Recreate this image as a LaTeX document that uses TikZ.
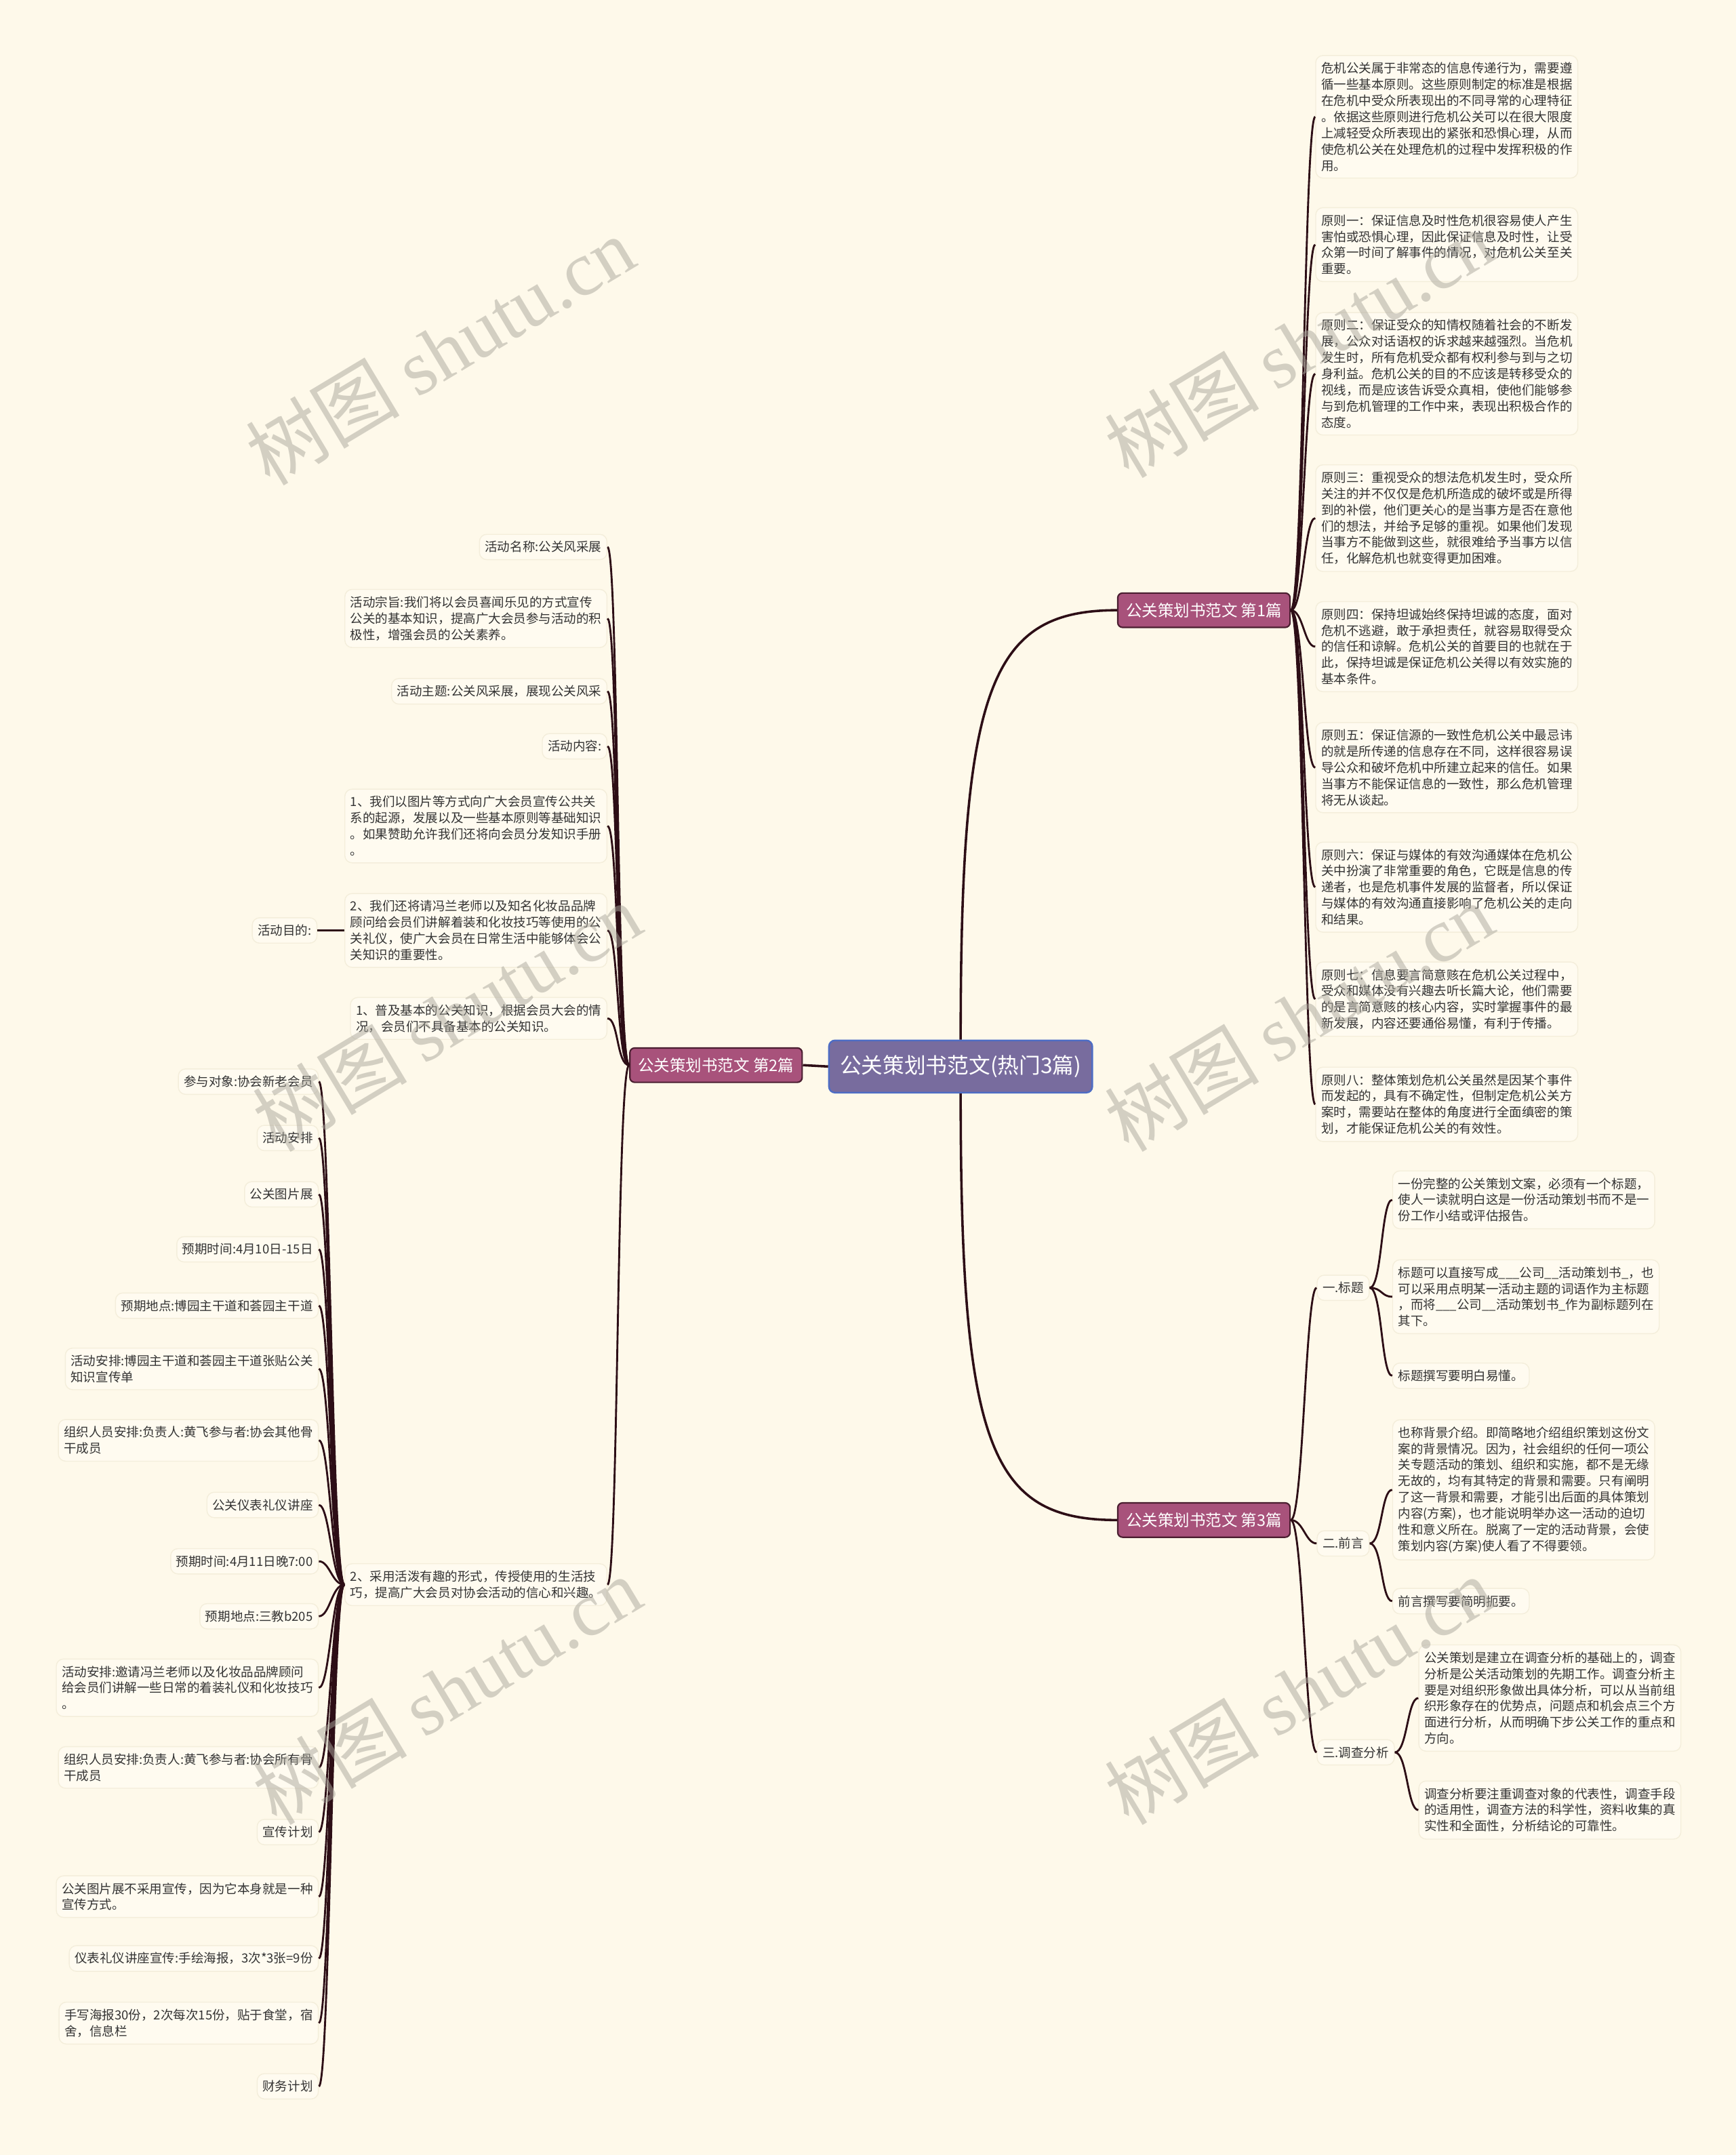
\documentclass[tikz,border=0pt]{standalone}
\usepackage{fontspec}
\setmainfont{Noto Sans CJK SC}
\newfontfamily\markfont{Liberation Serif}
\usepackage{tikz}
\usetikzlibrary{calc,positioning}
\definecolor{mmcream}   {HTML}{FEF9EA}
\definecolor{mmroot}    {HTML}{786C9E}
\definecolor{mmrootln}  {HTML}{4E6DC4}
\definecolor{mmbranch}  {HTML}{A8527B}
\definecolor{mmbranchln}{HTML}{4A1E30}
\definecolor{mmwire}    {HTML}{2D0E16}
\definecolor{mmink}     {HTML}{333333}
\definecolor{mmleaf}    {HTML}{FFFBF0}
\definecolor{mmleafln}  {HTML}{F4EEDB}
\definecolor{mmmark}    {HTML}{AAA79C}
% right-hand and left-hand connectors
\newcommand{\mmright}[2]{%
  \draw[wire] (#1) .. controls +(9,0) and +(-8,0) .. (#2);}
\newcommand{\mmleft}[2]{%
  \draw[wire] (#1) .. controls +(-9,0) and +(8,0) .. (#2);}

\begin{document}
\begin{tikzpicture}[x=0.02cm, y=-0.02cm,
    wire/.style={draw=mmwire, line width=0.8pt},
    leaf/.style={fill=mmleaf, draw=mmleafln, line width=0.4pt,
      rounded corners=3pt, text=mmink, align=left,
      inner xsep=0.08cm, inner ysep=0.1cm,
      font=\fontsize{5.2pt}{6.7pt}\selectfont},
    branch/.style={fill=mmbranch, draw=mmbranchln, line width=0.6pt,
      rounded corners=2pt, text=white, minimum height=0.5cm,
      inner xsep=0.12cm, font=\fontsize{6.6pt}{8pt}\selectfont},
    rootnode/.style={fill=mmroot, draw=mmrootln, line width=0.7pt,
      rounded corners=2.5pt, text=white, minimum height=0.76cm,
      inner xsep=0.16cm, font=\fontsize{8.9pt}{10pt}\selectfont},
    wmark/.style={text=mmmark, opacity=0.5, rotate=31,
      font=\fontsize{32pt}{34pt}\selectfont}]
  \fill[mmcream] (0,0) rectangle (1263,1568);
  \useasboundingbox (0,0) rectangle (1263,1568);

  % centre and branches
  \node[rootnode] (root) at (699,776) {公关策划书范文(热门3篇)};
  \node[branch] (br1) at (876,444) {公关策划书范文 第1篇};
  \node[branch] (br2) at (521,775) {公关策划书范文 第2篇};
  \node[branch] (br3) at (876,1106) {公关策划书范文 第3篇};

  \draw[wire, line width=1pt] (root.north) .. controls (699,500) and (720,444) .. (br1.west);
  \draw[wire, line width=1pt] (root.south) .. controls (699,1052) and (720,1106) .. (br3.west);
  \draw[wire, line width=1pt] (root.west) -- (br2.east);

  % first piece
  \node[leaf, anchor=west] (p0) at (957,85) {危机公关属于非常态的信息传递行为，需要遵\\循一些基本原则。这些原则制定的标准是根据\\在危机中受众所表现出的不同寻常的心理特征\\。依据这些原则进行危机公关可以在很大限度\\上减轻受众所表现出的紧张和恐惧心理，从而\\使危机公关在处理危机的过程中发挥积极的作\\用。};
  \node[leaf, anchor=west] (p1) at (957,178) {原则一：保证信息及时性危机很容易使人产生\\害怕或恐惧心理，因此保证信息及时性，让受\\众第一时间了解事件的情况，对危机公关至关\\重要。};
  \node[leaf, anchor=west] (p2) at (957,272) {原则二：保证受众的知情权随着社会的不断发\\展，公众对话语权的诉求越来越强烈。当危机\\发生时，所有危机受众都有权利参与到与之切\\身利益。危机公关的目的不应该是转移受众的\\视线，而是应该告诉受众真相，使他们能够参\\与到危机管理的工作中来，表现出积极合作的\\态度。};
  \node[leaf, anchor=west] (p3) at (957,377) {原则三：重视受众的想法危机发生时，受众所\\关注的并不仅仅是危机所造成的破坏或是所得\\到的补偿，他们更关心的是当事方是否在意他\\们的想法，并给予足够的重视。如果他们发现\\当事方不能做到这些，就很难给予当事方以信\\任，化解危机也就变得更加困难。};
  \node[leaf, anchor=west] (p4) at (957,470.5) {原则四：保持坦诚始终保持坦诚的态度，面对\\危机不逃避，敢于承担责任，就容易取得受众\\的信任和谅解。危机公关的首要目的也就在于\\此，保持坦诚是保证危机公关得以有效实施的\\基本条件。};
  \node[leaf, anchor=west] (p5) at (957,558.5) {原则五：保证信源的一致性危机公关中最忌讳\\的就是所传递的信息存在不同，这样很容易误\\导公众和破坏危机中所建立起来的信任。如果\\当事方不能保证信息的一致性，那么危机管理\\将无从谈起。};
  \node[leaf, anchor=west] (p6) at (957,645.5) {原则六：保证与媒体的有效沟通媒体在危机公\\关中扮演了非常重要的角色，它既是信息的传\\递者，也是危机事件发展的监督者，所以保证\\与媒体的有效沟通直接影响了危机公关的走向\\和结果。};
  \node[leaf, anchor=west] (p7) at (957,727) {原则七：信息要言简意赅在危机公关过程中，\\受众和媒体没有兴趣去听长篇大论，他们需要\\的是言简意赅的核心内容，实时掌握事件的最\\新发展，内容还要通俗易懂，有利于传播。};
  \node[leaf, anchor=west] (p8) at (957,803.5) {原则八：整体策划危机公关虽然是因某个事件\\而发起的，具有不确定性，但制定危机公关方\\案时，需要站在整体的角度进行全面缜密的策\\划，才能保证危机公关的有效性。};
  \foreach \n in {p0,p1,p2,p3,p4,p5,p6,p7,p8}
    {\mmright{br1.east}{\n.west}}

  % third piece
  \node[leaf, anchor=west] (h1) at (958,937) {一.标题};
  \node[leaf, anchor=west] (h2) at (958,1123) {二.前言};
  \node[leaf, anchor=west] (h3) at (958,1275) {三.调查分析};
  \foreach \n in {h1,h2,h3}
    {\mmright{br3.east}{\n.west}}

  \node[leaf, anchor=west] (h1a) at (1013,873) {一份完整的公关策划文案，必须有一个标题，\\使人一读就明白这是一份活动策划书而不是一\\份工作小结或评估报告。};
  \node[leaf, anchor=west] (h1b) at (1013,943.5) {标题可以直接写成\_\_\_公司\_\_活动策划书\_，也\\可以采用点明某一活动主题的词语作为主标题\\，而将\_\_\_公司\_\_活动策划书\_作为副标题列在\\其下。};
  \node[leaf, anchor=west] (h1c) at (1013,1001) {标题撰写要明白易懂。};
  \node[leaf, anchor=west] (h2a) at (1013,1084) {也称背景介绍。即简略地介绍组织策划这份文\\案的背景情况。因为，社会组织的任何一项公\\关专题活动的策划、组织和实施，都不是无缘\\无故的，均有其特定的背景和需要。只有阐明\\了这一背景和需要，才能引出后面的具体策划\\内容(方案)，也才能说明举办这一活动的迫切\\性和意义所在。脱离了一定的活动背景，会使\\策划内容(方案)使人看了不得要领。};
  \node[leaf, anchor=west] (h2b) at (1013,1165) {前言撰写要简明扼要。};
  \node[leaf, anchor=west] (h3a) at (1032,1235.5) {公关策划是建立在调查分析的基础上的，调查\\分析是公关活动策划的先期工作。调查分析主\\要是对组织形象做出具体分析，可以从当前组\\织形象存在的优势点，问题点和机会点三个方\\面进行分析，从而明确下步公关工作的重点和\\方向。};
  \node[leaf, anchor=west] (h3b) at (1032,1317) {调查分析要注重调查对象的代表性，调查手段\\的适用性，调查方法的科学性，资料收集的真\\实性和全面性，分析结论的可靠性。};
  \foreach \n in {h1a,h1b,h1c}
    {\mmright{h1.east}{\n.west}}
  \foreach \n in {h2a,h2b}
    {\mmright{h2.east}{\n.west}}
  \foreach \n in {h3a,h3b}
    {\mmright{h3.east}{\n.west}}

  % second piece
  \node[leaf, anchor=east] (c1) at (442,398) {活动名称:公关风采展};
  \node[leaf, anchor=east] (c2) at (442,450) {活动宗旨:我们将以会员喜闻乐见的方式宣传\\公关的基本知识，提高广大会员参与活动的积\\极性，增强会员的公关素养。};
  \node[leaf, anchor=east] (c3) at (442,503) {活动主题:公关风采展，展现公关风采};
  \node[leaf, anchor=east] (c4) at (442,543) {活动内容:};
  \node[leaf, anchor=east] (c5) at (442,601) {1、我们以图片等方式向广大会员宣传公共关\\系的起源，发展以及一些基本原则等基础知识\\。如果赞助允许我们还将向会员分发知识手册\\。};
  \node[leaf, anchor=east] (c6) at (442,677) {2、我们还将请冯兰老师以及知名化妆品品牌\\顾问给会员们讲解着装和化妆技巧等使用的公\\关礼仪，使广大会员在日常生活中能够体会公\\关知识的重要性。};
  \node[leaf, anchor=east] (c7) at (442,741) {1、普及基本的公关知识，根据会员大会的情\\况，会员们不具备基本的公关知识。};
  \node[leaf, anchor=east] (c8) at (442,1153) {2、采用活泼有趣的形式，传授使用的生活技\\巧，提高广大会员对协会活动的信心和兴趣。};
  \foreach \n in {c1,c2,c3,c4,c5,c6,c7,c8}
    {\mmleft{br2.west}{\n.east}}

  \node[leaf, anchor=east] (aim) at (231,677) {活动目的:};
  \draw[wire] (c6.west) -- (aim.east);

  \node[leaf, anchor=east] (g1) at (232,787) {参与对象:协会新老会员};
  \node[leaf, anchor=east] (g2) at (232,828) {活动安排};
  \node[leaf, anchor=east] (g3) at (232,869) {公关图片展};
  \node[leaf, anchor=east] (g4) at (232,909) {预期时间:4月10日-15日};
  \node[leaf, anchor=east] (g5) at (232,950) {预期地点:博园主干道和荟园主干道};
  \node[leaf, anchor=east] (g6) at (232,996) {活动安排:博园主干道和荟园主干道张贴公关\\知识宣传单};
  \node[leaf, anchor=east] (g7) at (232,1048) {组织人员安排:负责人:黄飞参与者:协会其他骨\\干成员};
  \node[leaf, anchor=east] (g8) at (232,1095) {公关仪表礼仪讲座};
  \node[leaf, anchor=east] (g9) at (232,1136) {预期时间:4月11日晚7:00};
  \node[leaf, anchor=east] (g10) at (232,1176) {预期地点:三教b205};
  \node[leaf, anchor=east] (g11) at (232,1228) {活动安排:邀请冯兰老师以及化妆品品牌顾问\\给会员们讲解一些日常的着装礼仪和化妆技巧\\。};
  \node[leaf, anchor=east] (g12) at (232,1286) {组织人员安排:负责人:黄飞参与者:协会所有骨\\干成员};
  \node[leaf, anchor=east] (g13) at (232,1333) {宣传计划};
  \node[leaf, anchor=east] (g14) at (232,1380) {公关图片展不采用宣传，因为它本身就是一种\\宣传方式。};
  \node[leaf, anchor=east] (g15) at (232,1425) {仪表礼仪讲座宣传:手绘海报，3次*3张=9份};
  \node[leaf, anchor=east] (g16) at (232,1472) {手写海报30份，2次每次15份，贴于食堂，宿\\舍，信息栏};
  \node[leaf, anchor=east] (g17) at (232,1518) {财务计划};
  \foreach \n in {g1,g2,g3,g4,g5,g6,g7,g8,g9,g10,g11,g12,g13,g14,g15,g16,g17}
    {\mmleft{c8.west}{\n.east}}

  % watermarks
  \foreach \x/\y [count=\i] in {320/255, 945/250, 325/740, 945/740, 325/1230, 945/1230}
    {\node[wmark] (wm\i) at (\x,\y) {树图 {\markfont shutu.cn}};}
\end{tikzpicture}
\end{document}
